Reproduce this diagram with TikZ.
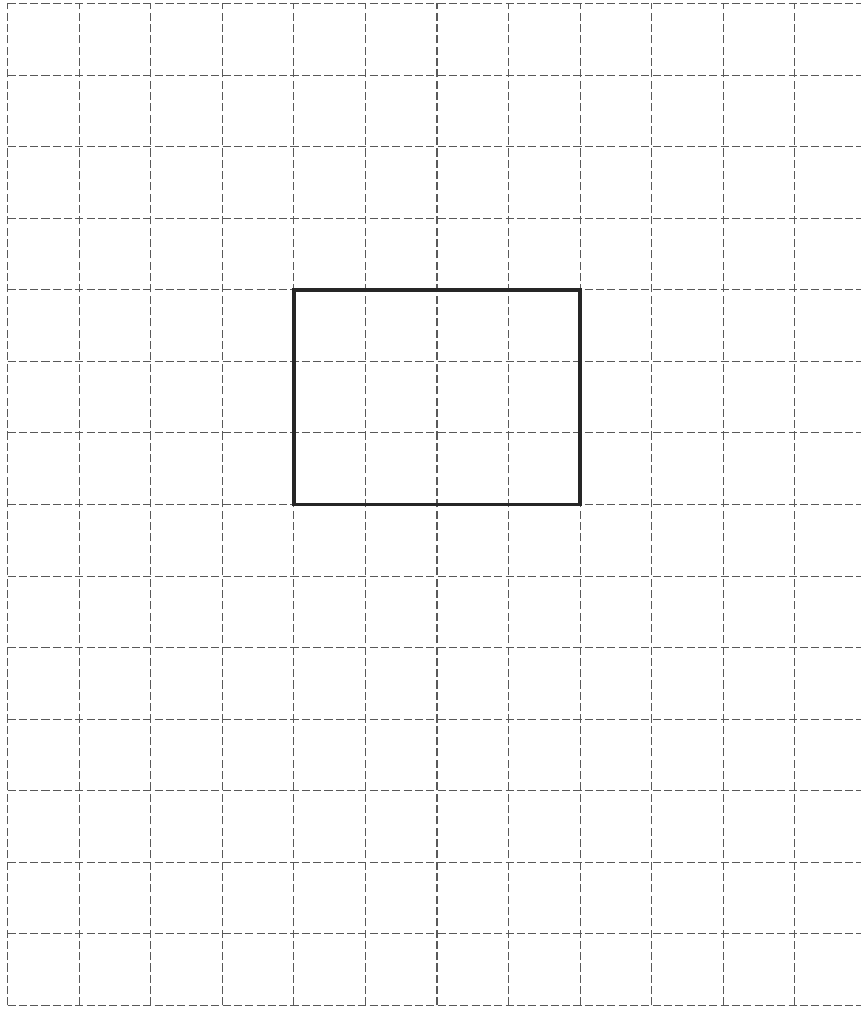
\documentclass[tikz,border=0pt]{standalone}
\usetikzlibrary{calc}

\tikzset{
    gridline/.style={black!65, line width=0.45pt, dash pattern=on 3.2pt off 1.3pt},
    shapeline/.style={black!85, line width=1.4pt}
}

\begin{document}
\begin{tikzpicture}[scale=1]

    % Fix the margins of the picture (grid cut at the right edge)
    \useasboundingbox (-0.105,-0.049) rectangle (11.925,14.049);

    % Draw the dashed square grid
    \foreach \x in {0,...,11} {
        \draw[gridline] (\x,0) -- (\x,14);
    }
    \foreach \y in {0,...,14} {
        \draw[gridline] (0,\y) -- (11.925,\y);
    }

    % Define the corners of the rectangle
    \coordinate (A) at (4,10);
    \coordinate (B) at (4,7);
    \coordinate (C) at (8,7);
    \coordinate (D) at (8,10);

    % Draw the rectangle outline
    \draw[shapeline] (A) -- (B) -- (C) -- (D) -- cycle;

\end{tikzpicture}
\end{document}
